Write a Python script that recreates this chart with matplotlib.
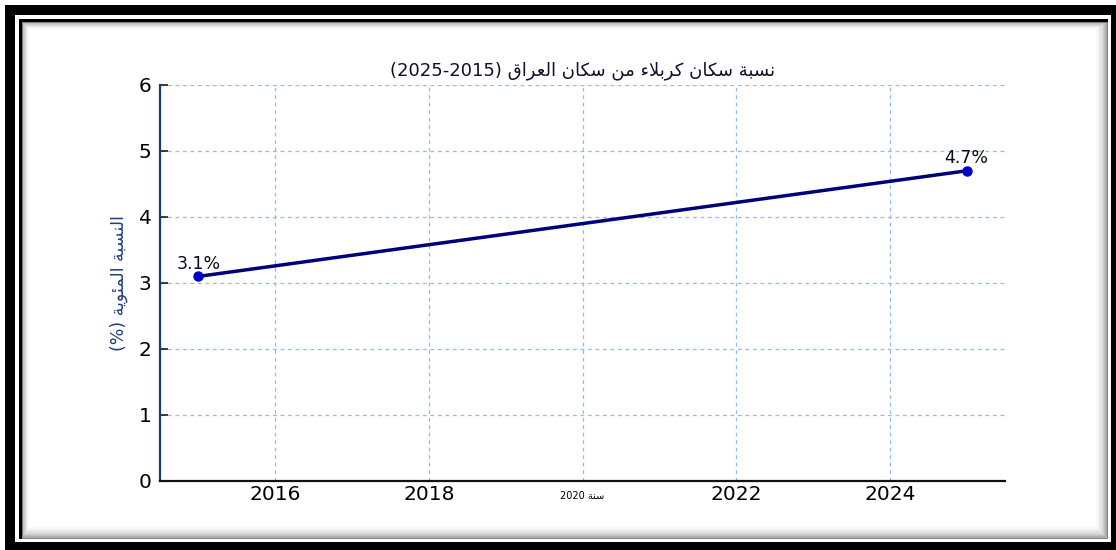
import matplotlib
matplotlib.use('Agg')
import matplotlib.pyplot as plt
from matplotlib.patches import Rectangle

# data
years = [2015, 2025]
share = [3.1, 4.7]
point_labels = ['3.1%', '4.7%']
xticks = [2016, 2018, 2020, 2022, 2024]
yticks = [0, 1, 2, 3, 4, 5, 6]
title_ar = 'نسبة سكان كربلاء من سكان العراق'
ylabel_ar = 'النسبة المئوية'
xlabel_ar = 'سنة'

# simple arabic shaping (matplotlib has no bidi / joining support)
FORMS = {
    'ء': (0xFE80, 1), 'آ': (0xFE81, 2), 'أ': (0xFE83, 2), 'ؤ': (0xFE85, 2),
    'إ': (0xFE87, 2), 'ئ': (0xFE89, 4), 'ا': (0xFE8D, 2), 'ب': (0xFE8F, 4),
    'ة': (0xFE93, 2), 'ت': (0xFE95, 4), 'ث': (0xFE99, 4), 'ج': (0xFE9D, 4),
    'ح': (0xFEA1, 4), 'خ': (0xFEA5, 4), 'د': (0xFEA9, 2), 'ذ': (0xFEAB, 2),
    'ر': (0xFEAD, 2), 'ز': (0xFEAF, 2), 'س': (0xFEB1, 4), 'ش': (0xFEB5, 4),
    'ص': (0xFEB9, 4), 'ض': (0xFEBD, 4), 'ط': (0xFEC1, 4), 'ظ': (0xFEC5, 4),
    'ع': (0xFEC9, 4), 'غ': (0xFECD, 4), 'ف': (0xFED1, 4), 'ق': (0xFED5, 4),
    'ك': (0xFED9, 4), 'ل': (0xFEDD, 4), 'م': (0xFEE1, 4), 'ن': (0xFEE5, 4),
    'ه': (0xFEE9, 4), 'و': (0xFEED, 2), 'ى': (0xFEEF, 2), 'ي': (0xFEF1, 4),
}


def ar(text):
    out = []
    i = 0
    while i < len(text):
        ch = text[i]
        if ch not in FORMS:
            out.append(ch)
            i += 1
            continue
        prev = text[i - 1] if i > 0 else None
        nxt = text[i + 1] if i + 1 < len(text) else None
        base, n = FORMS[ch]
        joins_prev = n > 1 and prev in FORMS and FORMS[prev][1] == 4
        if ch == 'ل' and nxt == 'ا':
            out.append(chr(0xFEFC if joins_prev else 0xFEFB))
            i += 2
            continue
        joins_next = n == 4 and nxt in FORMS and FORMS[nxt][1] > 1
        if n == 1:
            code = base
        elif joins_prev and joins_next:
            code = base + 3
        elif joins_prev:
            code = base + 1
        elif joins_next:
            code = base + 2
        else:
            code = base
        out.append(chr(code))
        i += 1
    return ''.join(out)[::-1]


W, H = 1116, 550
fig = plt.figure(figsize=(W / 100, H / 100), dpi=100, facecolor='white')


def px_rect(x0, y0, x1, y1, color, z):
    fig.patches.append(Rectangle((x0 / W, 1 - y1 / H), (x1 - x0) / W, (y1 - y0) / H,
                                 transform=fig.transFigure, facecolor=color,
                                 edgecolor='none', zorder=z))


# page frame around the chart
px_rect(5, 5, W, H, 'black', -20)
px_rect(15, 15, 1111, 542, 'white', -19)
px_rect(19, 19, 1108, 539, 'black', -18)
n_steps = 10
for k in range(n_steps):
    g = 0.5 + 0.5 * (k / (n_steps - 1)) ** 0.45
    px_rect(22 + k * 0.7, 22 + k * 0.7, 1108 - k * 1.3, 539 - k * 1.3, (g, g, g), -17 + k * 0.01)

ax = fig.add_axes([160 / W, 1 - 481 / H, 845 / W, 396 / H])
ax.set_facecolor('white')

ax.plot(years, share, color='#00007a', linewidth=2.5, marker='o', markersize=6.5,
        markerfacecolor='#0000c8', markeredgecolor='#0000c8', zorder=3)

for x, y, lab in zip(years, share, point_labels):
    ax.annotate(lab, (x, y), xytext=(0, 5.5), textcoords='offset points',
                ha='center', va='baseline', fontsize=12.5, color='#0a0a1a')

ax.set_xlim(2014.5, 2025.5)
ax.set_ylim(0, 6)
ax.set_yticks(yticks)
ax.set_yticklabels([str(v) for v in yticks], fontsize=14.5, color='black')
xlabels = [str(v) for v in xticks]
xlabels[2] = xlabels[2] + ' ' + ar(xlabel_ar)
ax.set_xticks(xticks)
ax.set_xticklabels(xlabels, fontsize=14.5, color='black')

ax.grid(True, color='#8fbde9', linestyle=(0, (3, 3)), linewidth=0.9)
ax.set_axisbelow(True)

for side in ['top', 'right']:
    ax.spines[side].set_visible(False)
ax.spines['left'].set_color('#1a3a6a')
ax.spines['bottom'].set_color('#111111')
ax.spines['left'].set_linewidth(1.6)
ax.spines['bottom'].set_linewidth(1.6)

ax.tick_params(axis='y', direction='in', length=6, width=1.2, color='#1a1a1a', pad=6)
ax.tick_params(axis='x', length=0, pad=3)

# the 2020 label is drawn small in the original
small = ax.get_xticklabels()[2]
small.set_fontsize(7)
small.set_y(-0.014)

ax.set_title(f'({years[1]}-{years[0]}) ' + ar(title_ar), fontsize=13,
             color='#10102a', pad=7)
ax.set_ylabel('(%) ' + ar(ylabel_ar), fontsize=12.5, color='#1f3d7a', labelpad=8)

fig.savefig('out.png', dpi=100, facecolor='white')
